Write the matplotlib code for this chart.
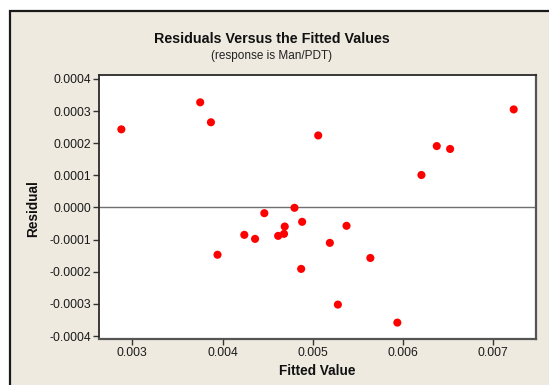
import numpy as np
import matplotlib
matplotlib.use("Agg")
import matplotlib.pyplot as plt
from matplotlib.patches import Rectangle
from matplotlib.ticker import FixedLocator, FuncFormatter

plt.rcParams['font.family'] = ['Liberation Sans', 'DejaVu Sans']

# Fitted values and their residuals
fitted = [0.002878, 0.003752, 0.003871, 0.003944, 0.004241, 0.004360,
          0.004463, 0.004616, 0.004681, 0.004689, 0.004797, 0.004882,
          0.004871, 0.005060, 0.005189, 0.005374, 0.005278, 0.005638,
          0.005937, 0.006204, 0.006374, 0.006522, 0.007227]
residual = [0.000243, 0.000327, 0.000265, -0.000147, -0.0000851, -0.0000976,
            -0.0000177, -0.0000883, -0.0000820, -0.0000592, -0.000001, -0.0000446,
            -0.000191, 0.000224, -0.000110, -0.000057, -0.000302, -0.000157,
            -0.000358, 0.000101, 0.000191, 0.000182, 0.000305]

x_ticks = [0.003, 0.004, 0.005, 0.006, 0.007]
y_ticks = [-0.0004, -0.0003, -0.0002, -0.0001, 0.0, 0.0001, 0.0002, 0.0003, 0.0004]

W, H = 549, 385
fig = plt.figure(figsize=(W / 100, H / 100), dpi=100)
fig.patch.set_facecolor('white')

# beige graph panel with a dark frame on its left and top edges
panel = Rectangle((10 / W, -0.2), 1.2, (H - 11) / H + 0.2,
                  transform=fig.transFigure, facecolor='#EEEAE0',
                  edgecolor='#1a1a1a', linewidth=1.6, zorder=-5)
fig.patches.append(panel)

ax = fig.add_axes([98.7 / W, (H - 339) / H, (536 - 98.7) / W, (339 - 75) / H])
ax.set_zorder(2)
ax.set_facecolor('white')

ax.axhline(0, color='#707070', linewidth=1.0, zorder=1)
ax.scatter(fitted, residual, s=34, color='#FF0000', edgecolors='none', zorder=3)

ax.set_xlim(0.002627, 0.007474)
ax.set_ylim(-0.000409, 0.000412)

ax.xaxis.set_major_locator(FixedLocator(x_ticks))
ax.yaxis.set_major_locator(FixedLocator(y_ticks))
ax.xaxis.set_major_formatter(FuncFormatter(lambda v, p: f"{round(v, 6):.3f}"))
ax.yaxis.set_major_formatter(FuncFormatter(
    lambda v, p: ("0.0000" if abs(v) < 1e-9 else f"{v:.4f}")))

ax.tick_params(axis='both', direction='out', length=4, width=1.0,
               color='#333333', labelsize=8.7, labelcolor='#1a1a1a', pad=1.5)
ax.tick_params(top=False, right=False)

for side in ['left', 'top']:
    ax.spines[side].set_color('#2a2a2a')
    ax.spines[side].set_linewidth(1.3)
for side in ['right', 'bottom']:
    ax.spines[side].set_color('#555555')
    ax.spines[side].set_linewidth(1.6)

ax.set_xlabel('Fitted Value', fontsize=9.8, fontweight='bold', color='#111111')
ax.set_ylabel('Residual', fontsize=9.8, fontweight='bold', color='#111111')
ax.xaxis.set_label_coords((317 - 98.7) / (536 - 98.7), (339 - 371) / (339 - 75))
ax.yaxis.set_label_coords((33 - 98.7) / (536 - 98.7), (339 - 209) / (339 - 75))
ax.xaxis.label.set_va('center')
ax.yaxis.label.set_va('center')

fig.text(271.5 / W, 1 - 39 / H, 'Residuals Versus the Fitted Values',
         ha='center', va='center', fontsize=10.3, fontweight='bold', color='#111111')
fig.text(271.5 / W, 1 - 56 / H, '(response is Man/PDT)',
         ha='center', va='center', fontsize=8.5, color='#222222')

fig.savefig('out.png', dpi=100, facecolor=fig.get_facecolor())
